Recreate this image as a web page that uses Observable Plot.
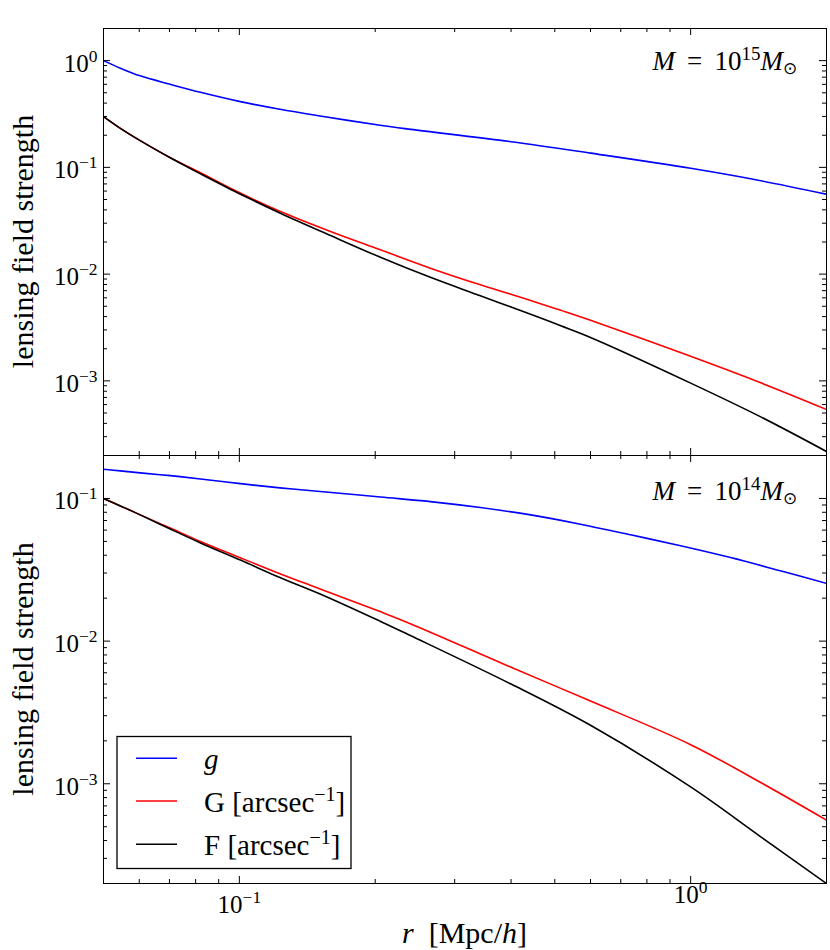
<!DOCTYPE html>
<html>
<head>
<meta charset="utf-8">
<script src="https://cdn.jsdelivr.net/npm/d3@7"></script>
<script src="https://cdn.jsdelivr.net/npm/@observablehq/plot@0.6"></script>
<style>
  html, body { margin: 0; padding: 0; background: #fff; }
  #wrap { position: relative; width: 830px; height: 950px; font-family: "Liberation Serif", "Times New Roman", serif; }
  #wrap > svg { display: block; }
  #overlay { position: absolute; left: 0; top: 0; pointer-events: none; }
</style>
</head>
<body>
<div id="wrap"></div>
<script>
// ---------- data ----------
// radii r [Mpc/h] at which each curve was read
const rCoarse = [0.05, 0.0545, 0.0603, 0.0703, 0.082, 0.1005, 0.123, 0.151, 0.205, 0.24, 0.4, 0.6, 1.0, 1.43, 2.0];
const rTopGF  = [0.05, 0.0545, 0.0603, 0.0703, 0.082, 0.0955, 0.1233, 0.1592, 0.2054, 0.265, 0.342, 0.442, 0.5155, 0.6, 1.0, 1.43, 2.0];
const rBotG   = [0.05, 0.0545, 0.0603, 0.0703, 0.082, 0.1005, 0.123, 0.151, 0.2054, 0.265, 0.342, 0.442, 0.57, 0.736, 0.95, 1.226, 1.58, 2.0];

// top panel, M = 10^15 Msun
const gTop = [1.0, 0.85, 0.72, 0.60, 0.505, 0.413, 0.35, 0.303, 0.248, 0.227, 0.174, 0.136, 0.098, 0.075, 0.056];          // on rCoarse
const GTop = [0.299, 0.232, 0.178, 0.123, 0.089, 0.0638, 0.0386, 0.0251, 0.0169, 0.01138, 0.00794, 0.00566, 0.00458, 0.00369, 0.0017, 0.00096, 0.00054];   // on rTopGF
const FTop = [0.299, 0.232, 0.178, 0.123, 0.087, 0.0625, 0.0372, 0.0230, 0.0144, 0.00933, 0.00627, 0.00421, 0.00328, 0.00255, 0.000953, 0.00046, 0.000218]; // on rTopGF

// bottom panel, M = 10^14 Msun
const gBot = [0.16, 0.156, 0.151, 0.1445, 0.137, 0.127, 0.1186, 0.112, 0.1023, 0.095, 0.0863, 0.0767, 0.066, 0.0556, 0.0466, 0.0385, 0.0311, 0.0254]; // on rBotG
const GBot = [0.1, 0.0886, 0.0767, 0.062, 0.050, 0.0384, 0.0297, 0.0232, 0.0161, 0.0132, 0.00656, 0.0038, 0.00188, 0.00102, 0.000556];   // on rCoarse
const FBot = [0.1, 0.0886, 0.0767, 0.061, 0.0488, 0.037, 0.0279, 0.0214, 0.0138, 0.0109, 0.0050, 0.00257, 0.00095, 0.000425, 0.0002];     // on rCoarse

const seriesColors = ["#0000ff", "#ff0000", "#000000"];
const legendLabels = [
  {main: "g", italic: true, sup: null},
  {main: "G [arcsec", italic: false, sup: "\u22121"},
  {main: "F [arcsec", italic: false, sup: "\u22121"}
];
const massExponents = ["15", "14"];

const xDomain = [0.05, 2];
const yDomainTop = [2e-4, 2];
const yDomainBot = [2e-4, 0.2];
const xMajor = [0.1, 1];
const yMajorTop = [1, 0.1, 0.01, 0.001];
const yMajorBot = [0.1, 0.01, 0.001];
const yLabel = "lensing field strength";

// ---------- helpers ----------
const NS = "http://www.w3.org/2000/svg";
const FONT = '"Liberation Serif", "Times New Roman", serif';
const W = 830, ML = 103, MR = 4;

function minors(domain) {
  const out = [];
  for (let e = -5; e <= 1; e++) {
    for (let m = 2; m <= 9; m++) {
      const v = m * Math.pow(10, e);
      if (v > domain[0] * 1.001 && v < domain[1] * 0.999) out.push(v);
    }
  }
  return out;
}
const fmt = d => "10^" + Math.round(Math.log10(d));
const rows = (rs, vs) => rs.map((x, i) => ({r: x, v: vs[i]}));

function panel({height, marginTop, marginBottom, yDomain, yMajor, series, showX}) {
  const iw = W - ML - MR;
  const ih = height - marginTop - marginBottom;
  const xMinor = minors(xDomain);
  const yMinor = minors(yDomain);
  const tx = (vals, len) => [
    Plot.tickX(vals, {x: d => d, insetBottom: ih - len, stroke: "#000", strokeWidth: 1}),
    Plot.tickX(vals, {x: d => d, insetTop: ih - len, stroke: "#000", strokeWidth: 1})
  ];
  const ty = (vals, len) => [
    Plot.tickY(vals, {y: d => d, insetRight: iw - len, stroke: "#000", strokeWidth: 1}),
    Plot.tickY(vals, {y: d => d, insetLeft: iw - len, stroke: "#000", strokeWidth: 1})
  ];
  const marks = [
    ...series.map((s, i) => Plot.line(s, {x: "r", y: "v", stroke: seriesColors[i], strokeWidth: 1.6, curve: "catmull-rom", clip: true})),
    ...tx(xMajor, 7), ...tx(xMinor, 4),
    ...ty(yMajor, 7), ...ty(yMinor, 4),
    Plot.frame({stroke: "#000", strokeWidth: 1}),
    Plot.axisY(yMajor, {tickSize: 0, tickPadding: 6, tickFormat: fmt, fontSize: 25, dy: 3, label: null})
  ];
  if (showX) marks.push(Plot.axisX(xMajor, {tickSize: 0, tickPadding: 7, tickFormat: fmt, fontSize: 25, label: null}));
  return Plot.plot({
    width: W, height, marginTop, marginBottom, marginLeft: ML, marginRight: MR,
    x: {type: "log", domain: xDomain, axis: showX ? undefined : null},
    y: {type: "log", domain: yDomain},
    style: {fontFamily: FONT, fontSize: "25px", background: "transparent", overflow: "visible", color: "#000"},
    marks
  });
}

function supify(svg) {
  svg.querySelectorAll("text").forEach(t => {
    const m = t.textContent.match(/^10\^(-?\d+)$/);
    if (!m) return;
    const exp = +m[1];
    const isX = t.closest('g[aria-label="x-axis tick label"]');
    t.textContent = "";
    const a = document.createElementNS(NS, "tspan");
    a.textContent = "10";
    if (isX) a.setAttribute("dy", exp < 0 ? "5" : "-5");
    const b = document.createElementNS(NS, "tspan");
    b.setAttribute("dy", "-10");
    b.setAttribute("font-size", "17.5");
    b.textContent = String(exp).replace("-", "\u2212");
    t.append(a, b);
  });
}

const wrap = document.getElementById("wrap");
const topPanel = panel({
  height: 455, marginTop: 28, marginBottom: 0, yDomain: yDomainTop, yMajor: yMajorTop, showX: false,
  series: [rows(rCoarse, gTop), rows(rTopGF, GTop), rows(rTopGF, FTop)]
});
const botPanel = panel({
  height: 495, marginTop: 0, marginBottom: 67, yDomain: yDomainBot, yMajor: yMajorBot, showX: true,
  series: [rows(rBotG, gBot), rows(rCoarse, GBot), rows(rCoarse, FBot)]
});
supify(topPanel); supify(botPanel);
wrap.append(topPanel, botPanel);

// ---------- overlay: axis titles, annotations, legend ----------
const yl = (cy) => `<text transform="translate(33,${cy}) rotate(-90)" text-anchor="middle" font-size="30">${yLabel}</text>`;
const ann = (y, e) => `<text x="797" y="${y}" text-anchor="end" font-size="27" xml:space="preserve" style="white-space:pre"><tspan font-style="italic">M</tspan> \u2009=\u2009 10<tspan dy="-10" font-size="19">${e}</tspan><tspan dy="10" font-style="italic">M</tspan><tspan dy="4" font-size="17">\u2299</tspan></text>`;
const legendRowsY = [758.3, 801, 844.3];
let legend = `<rect x="117" y="736.5" width="234" height="132" fill="#fff" stroke="#000" stroke-width="1.3"/>`;
legendLabels.forEach((L, i) => {
  const y = legendRowsY[i];
  legend += `<line x1="136" x2="177" y1="${y}" y2="${y}" stroke="${seriesColors[i]}" stroke-width="1.6"/>`;
  let txt = L.italic ? `<tspan font-style="italic">${L.main}</tspan>` : L.main;
  if (L.sup) txt += `<tspan dy="-11" font-size="20">${L.sup}</tspan><tspan dy="11">]</tspan>`;
  legend += `<text x="204" y="${y + 10.5}" font-size="29">${txt}</text>`;
});
const overlay = `<svg id="overlay" xmlns="${NS}" width="830" height="950" font-family='${FONT}' fill="#000">
  ${yl(241.5)}${yl(669)}
  <text x="464.5" y="943" text-anchor="middle" font-size="30" xml:space="preserve" style="white-space:pre"><tspan font-style="italic">r</tspan>  [Mpc/<tspan font-style="italic">h</tspan>]</text>
  ${ann(70, massExponents[0])}${ann(500, massExponents[1])}
  ${legend}
</svg>`;
wrap.insertAdjacentHTML("beforeend", overlay);
</script>
</body>
</html>
